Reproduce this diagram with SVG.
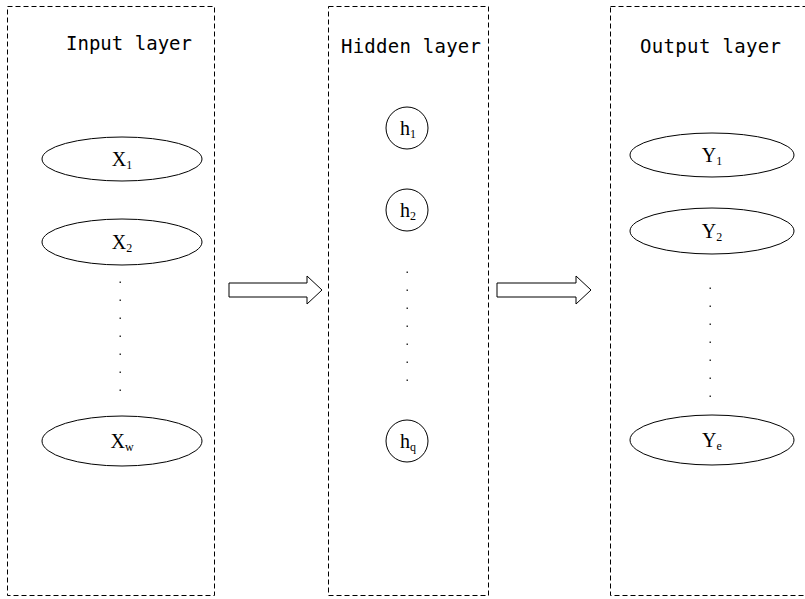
<svg xmlns="http://www.w3.org/2000/svg" width="805" height="599" viewBox="0 0 805 599">
<style>
.box{fill:none;stroke:#000;stroke-width:1;stroke-dasharray:5,3}
.node{fill:#fff;stroke:#000;stroke-width:1}
.title{font-family:"DejaVu Sans Mono","Liberation Mono",monospace;font-size:19px;fill:#000}
.lbl{font-family:"Liberation Serif","Times New Roman",serif;font-size:20px;fill:#000;text-anchor:middle}
.sub{font-size:12px}
.dot{fill:#333}
.arrow{fill:#fff;stroke:#000;stroke-width:1}
</style>
<rect width="805" height="599" fill="#fff"/>
<g id="input-layer">
<rect class="box" x="7.5" y="6.5" width="207" height="589"/>
<text class="title" x="66" y="50" textLength="126" lengthAdjust="spacing">Input layer</text>
</g>
<g id="hidden-layer">
<rect class="box" x="328.5" y="6.5" width="160" height="589"/>
<text class="title" x="341" y="53" textLength="140" lengthAdjust="spacing">Hidden layer</text>
</g>
<g id="output-layer">
<rect class="box" x="610.5" y="6.5" width="210" height="589"/>
<text class="title" x="640" y="53" textLength="141" lengthAdjust="spacing">Output layer</text>
</g>
<g id="x1"><ellipse class="node" cx="122" cy="159" rx="80" ry="22"/><text class="lbl" x="122" y="166">X<tspan class="sub" dy="3">1</tspan></text></g>
<g id="x2"><ellipse class="node" cx="122" cy="242" rx="80" ry="23"/><text class="lbl" x="122" y="249">X<tspan class="sub" dy="3">2</tspan></text></g>
<g id="xw"><ellipse class="node" cx="122" cy="441" rx="80" ry="25"/><text class="lbl" x="122" y="448">X<tspan class="sub" dy="3">w</tspan></text></g>
<g id="x-dots">
<rect class="dot" x="119.5" y="281.5" width="1.5" height="1.5"/>
<rect class="dot" x="119.5" y="299.5" width="1.5" height="1.5"/>
<rect class="dot" x="119.5" y="317.5" width="1.5" height="1.5"/>
<rect class="dot" x="119.5" y="335.5" width="1.5" height="1.5"/>
<rect class="dot" x="119.5" y="353.5" width="1.5" height="1.5"/>
<rect class="dot" x="119.5" y="371.5" width="1.5" height="1.5"/>
<rect class="dot" x="119.5" y="389.5" width="1.5" height="1.5"/>
</g>
<g id="h1"><circle class="node" cx="407" cy="128" r="21"/><text class="lbl" x="408" y="135">h<tspan class="sub" dy="3">1</tspan></text></g>
<g id="h2"><circle class="node" cx="407" cy="210" r="21"/><text class="lbl" x="408" y="217">h<tspan class="sub" dy="3">2</tspan></text></g>
<g id="hq"><circle class="node" cx="407" cy="441" r="21"/><text class="lbl" x="408" y="448">h<tspan class="sub" dy="3">q</tspan></text></g>
<g id="h-dots">
<rect class="dot" x="406.5" y="271.5" width="1.5" height="1.5"/>
<rect class="dot" x="406.5" y="289.5" width="1.5" height="1.5"/>
<rect class="dot" x="406.5" y="307.5" width="1.5" height="1.5"/>
<rect class="dot" x="406.5" y="325.5" width="1.5" height="1.5"/>
<rect class="dot" x="406.5" y="343.5" width="1.5" height="1.5"/>
<rect class="dot" x="406.5" y="361.5" width="1.5" height="1.5"/>
<rect class="dot" x="406.5" y="379.5" width="1.5" height="1.5"/>
</g>
<g id="y1"><ellipse class="node" cx="712" cy="155" rx="82" ry="22"/><text class="lbl" x="712" y="162">Y<tspan class="sub" dy="3">1</tspan></text></g>
<g id="y2"><ellipse class="node" cx="712" cy="231" rx="82" ry="23"/><text class="lbl" x="712" y="238">Y<tspan class="sub" dy="3">2</tspan></text></g>
<g id="ye"><ellipse class="node" cx="712" cy="440" rx="82" ry="25"/><text class="lbl" x="712" y="447">Y<tspan class="sub" dy="3">e</tspan></text></g>
<g id="y-dots">
<rect class="dot" x="709.5" y="287.5" width="1.5" height="1.5"/>
<rect class="dot" x="709.5" y="305.5" width="1.5" height="1.5"/>
<rect class="dot" x="709.5" y="323.5" width="1.5" height="1.5"/>
<rect class="dot" x="709.5" y="341.5" width="1.5" height="1.5"/>
<rect class="dot" x="709.5" y="359.5" width="1.5" height="1.5"/>
<rect class="dot" x="709.5" y="377.5" width="1.5" height="1.5"/>
<rect class="dot" x="709.5" y="395.5" width="1.5" height="1.5"/>
</g>
<g id="connectors">
<polygon class="arrow" points="229,283 307,283 307,276 322,290 307,304 307,297 229,297"/>
<polygon class="arrow" points="497,283 576,283 576,276 591,290 576,304 576,297 497,297"/>
</g>
</svg>
